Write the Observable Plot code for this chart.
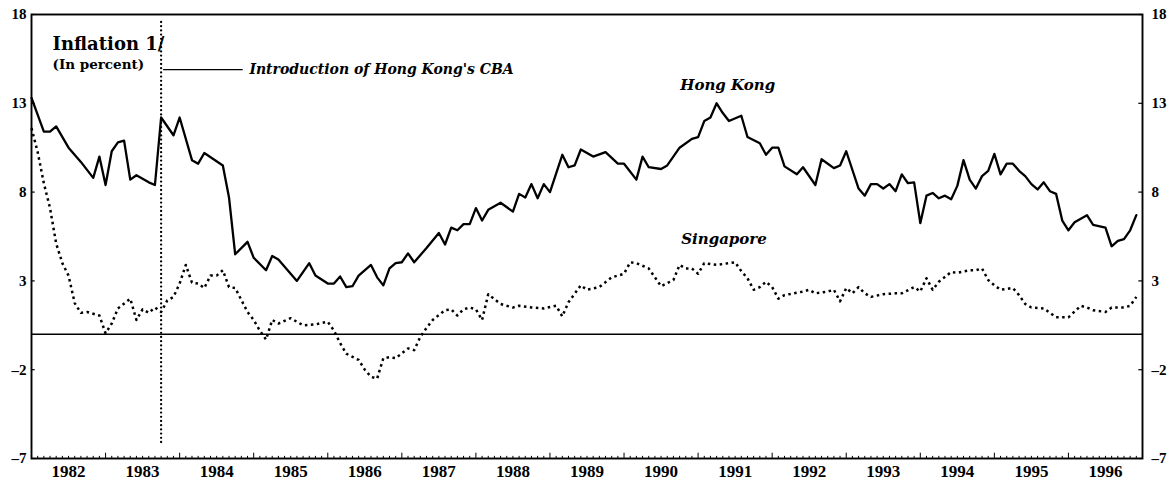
<!DOCTYPE html>
<html><head><meta charset="utf-8">
<script src="https://cdn.jsdelivr.net/npm/d3@7"></script>
<script src="https://cdn.jsdelivr.net/npm/@observablehq/plot@0.6"></script>
<style>body{margin:0;background:#fff}</style>
</head><body><div id="chart"></div>
<script>
// x positions are months since January 1982 (0 = Jan 1982)
const years = [1982,1983,1984,1985,1986,1987,1988,1989,1990,1991,1992,1993,1994,1995,1996];
const yTicks = [18,13,8,3,-2,-7];

const hkMonth = [0,2,3,4,6,8,10,11,12,13,14,15,16,17,19,20,21,23,24,26,27,28,31,32,33,35,36,38,39,40,43,45,46,48,49,50,51,52,53,55,56,57,58,59,60,61,62,64,66,67,68,69,70,71,72,73,74,76,78,79,80,81,82,83,84,86,87,88,89,91,93,95,96,98,99,100,102,103,105,107,108,109,110,111,112,113,115,116,118,119,120,121,122,124,125,127,128,130,131,132,134,135,136,137,138,139,140,141,142,143,144,145,146,147,148,149,150,151,152,153,154,155,156,157,158,159,160,161,162,163,164,165,166,167,168,169,171,172,174,175,176,177,178,179];
const hkValue = [13.3,11.4,11.4,11.7,10.5,9.7,8.8,10.0,8.4,10.3,10.8,10.9,8.7,8.95,8.55,8.4,12.2,11.2,12.2,9.8,9.6,10.2,9.5,7.7,4.5,5.2,4.3,3.6,4.4,4.2,3.0,4.0,3.3,2.85,2.85,3.25,2.65,2.7,3.3,3.9,3.2,2.75,3.7,4.0,4.05,4.55,4.05,4.85,5.7,5.05,6.0,5.85,6.2,6.2,7.1,6.4,7.0,7.4,6.9,7.9,7.7,8.45,7.65,8.45,8.0,10.1,9.4,9.5,10.4,10.0,10.25,9.6,9.6,8.7,10.0,9.4,9.3,9.5,10.5,11.0,11.1,12.0,12.2,13.0,12.45,12.0,12.3,11.1,10.75,10.1,10.5,10.5,9.45,9.0,9.4,8.4,9.85,9.35,9.5,10.3,8.2,7.8,8.45,8.45,8.2,8.45,8.05,9.0,8.5,8.55,6.25,7.8,7.95,7.65,7.8,7.6,8.35,9.8,8.7,8.2,8.9,9.2,10.15,9.0,9.6,9.6,9.2,8.9,8.45,8.15,8.55,8.05,7.9,6.4,5.85,6.3,6.7,6.15,6.0,4.95,5.25,5.35,5.85,6.7];

const sgMonth = [0,1,2,3,4,5,6,7,8,9,11,12,13,14,16,17,18,19,20,21,22,23,24,25,26,27,28,29,30,31,32,33,35,36,37,38,39,40,41,42,44,46,48,49,50,51,53,54,55,56,57,58,59,61,62,63,64,65,67,68,69,70,71,72,73,74,76,78,79,81,83,85,86,87,89,90,92,94,96,97,98,100,101,102,104,105,106,107,108,109,111,113,114,115,116,117,118,119,120,121,122,125,126,127,129,130,131,132,133,134,135,136,138,140,141,143,144,145,146,147,149,150,152,153,154,155,156,157,159,160,161,162,164,165,166,168,170,171,172,174,175,177,178,179];
const sgValue = [11.6,10.25,8.5,7.1,5.1,4.0,3.3,1.75,1.2,1.25,1.05,0.05,0.6,1.45,2.0,0.8,1.4,1.2,1.5,1.25,1.9,2.1,2.85,3.9,2.9,2.85,2.6,3.3,3.3,3.6,2.65,2.6,1.25,0.8,0.2,-0.3,0.8,0.6,0.75,0.9,0.5,0.55,0.7,0.2,-0.5,-1.1,-1.45,-2.0,-2.4,-2.5,-1.35,-1.3,-1.35,-0.8,-0.9,-0.15,0.35,0.8,1.35,1.4,1.05,1.4,1.5,1.4,0.8,2.25,1.7,1.5,1.6,1.5,1.45,1.6,1.0,1.8,2.75,2.5,2.65,3.2,3.4,4.05,4.0,3.7,3.2,2.7,3.05,3.9,3.7,3.7,3.4,4.0,3.9,4.0,4.05,3.55,3.15,2.5,2.65,2.95,2.65,2.0,2.2,2.4,2.5,2.3,2.4,2.5,1.85,2.6,2.3,2.65,2.3,2.1,2.25,2.3,2.3,2.65,2.4,3.15,2.5,2.95,3.5,3.45,3.6,3.6,3.7,3.05,2.75,2.5,2.6,2.2,1.7,1.5,1.45,1.2,0.95,0.95,1.6,1.5,1.35,1.25,1.5,1.5,1.6,2.1];

const cbaMonth = [21]; // October 1983
const seriesLabels = ["Hong Kong", "Singapore"];
const seriesLabelMonth = [112.8, 112.2];
const seriesLabelValue = [14.0, 5.35];
const noteText = ["Introduction of Hong Kong's CBA"];
const noteMonth = [21.4, 34.3, 35.3];
const noteValue = [14.9];
const titleText = "Inflation 1/";
const subtitleText = "(In percent)";

const hk = hkMonth.map((m, i) => ({m, v: hkValue[i]}));
const sg = sgMonth.map((m, i) => ({m, v: sgValue[i]}));
const months = d3.range(0, 181);
const yearMid = years.map((y, i) => ({label: String(y), m: i * 12 + 6}));

const serif = "'DejaVu Serif', 'Liberation Serif', serif";
const numFont = "'Liberation Serif', 'DejaVu Serif', serif";

const chart = Plot.plot({
  width: 1176, height: 483,
  marginLeft: 31, marginRight: 34, marginTop: 14, marginBottom: 25,
  x: {domain: [0, 180], axis: null},
  y: {domain: [-7, 18], axis: null},
  style: {background: "#fff", color: "#000"},
  marks: [
    Plot.ruleY([0], {stroke: "#000", strokeWidth: 1.5}),
    // bottom minor/major ticks (inward)
    Plot.ruleX(months, {x: d => d, y1: -7, y2: d => d % 12 === 0 ? -6.7 : -6.88, stroke: "#000", strokeWidth: 1}),
    // y ticks left and right (inward)
    Plot.ruleY(yTicks, {y: d => d, x1: 0, x2: 0.6, stroke: "#000", strokeWidth: 1.2}),
    Plot.ruleY(yTicks, {y: d => d, x1: 179.4, x2: 180, stroke: "#000", strokeWidth: 1.2}),
    Plot.frame({stroke: "#000", strokeWidth: 1.9}),
    // y tick labels
    Plot.text(yTicks, {x: 0, y: d => d, text: d => String(d).replace("-", "\u2013"), dx: -5, textAnchor: "end", fontFamily: numFont, fontWeight: "bold", fontSize: 15}),
    Plot.text(yTicks, {x: 180, y: d => d, text: d => String(d).replace("-", "\u2013"), dx: 9, textAnchor: "start", fontFamily: numFont, fontWeight: "bold", fontSize: 15}),
    // year labels
    Plot.text(yearMid, {x: "m", y: -7, text: "label", dy: 13, fontFamily: numFont, fontWeight: "bold", fontSize: 17}),
    // CBA vertical dotted line
    Plot.ruleX(cbaMonth, {x: d => d, y1: 17.55, y2: -6.3, stroke: "#000", strokeWidth: 2.3, strokeDasharray: "0,4.2", strokeLinecap: "round"}),
    // annotation leader + text
    Plot.ruleY(noteValue, {y: d => d, x1: noteMonth[0], x2: noteMonth[1], stroke: "#000", strokeWidth: 1.3}),
    Plot.text(noteText, {x: noteMonth[2], y: noteValue[0], text: d => d, textAnchor: "start", fontFamily: serif, fontStyle: "italic", fontWeight: "bold", fontSize: 14}),
    // series
    Plot.line(hk, {x: "m", y: "v", stroke: "#000", strokeWidth: 2.3, strokeLinejoin: "round"}),
    Plot.line(sg, {x: "m", y: "v", stroke: "#000", strokeWidth: 2.5, strokeDasharray: "2.5,3.5", strokeLinecap: "butt"}),
    Plot.text(seriesLabels, {x: (d, i) => seriesLabelMonth[i], y: (d, i) => seriesLabelValue[i], text: d => d, fontFamily: serif, fontStyle: "italic", fontWeight: "bold", fontSize: 15}),
    // title
    Plot.text([titleText], {frameAnchor: "top-left", text: d => d, dx: 21, dy: 23, textAnchor: "start", fontFamily: serif, fontWeight: "bold", fontSize: 18}),
    Plot.text([subtitleText], {frameAnchor: "top-left", text: d => d, dx: 21, dy: 45, textAnchor: "start", fontFamily: serif, fontWeight: "bold", fontSize: 13.5})
  ]
});
document.getElementById("chart").appendChild(chart);
</script>
</body></html>
